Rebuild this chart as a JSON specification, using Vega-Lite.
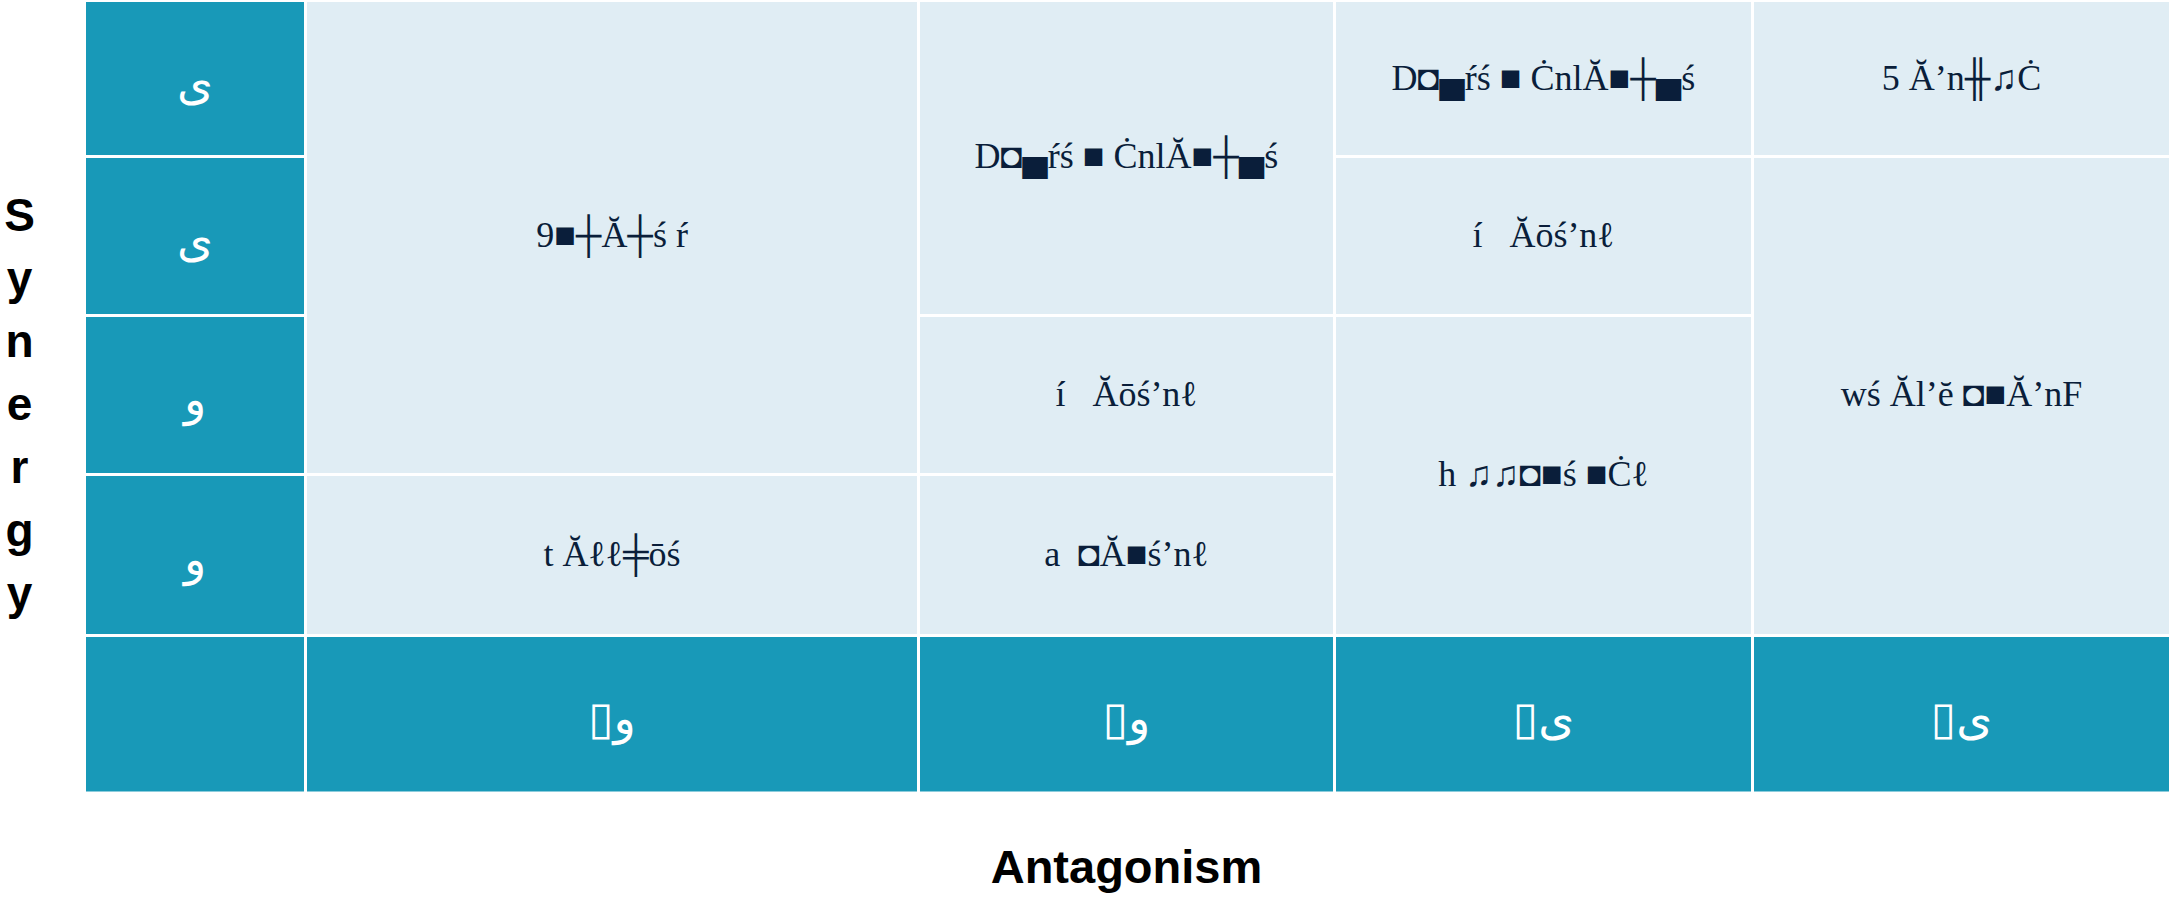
{
  "$schema": "https://vega.github.io/schema/vega-lite/v6.json",
  "width": 2169,
  "height": 901,
  "autosize": {"type": "none"},
  "padding": 0,
  "background": "white",
  "config": {"view": {"stroke": null}},
  "data": {
    "values": [
      {"c0": 0, "c1": 1, "r0": 0, "r1": 1, "cm": 0.5, "rm": 0.5, "kind": "head", "label": "ی"},
      {"c0": 0, "c1": 1, "r0": 1, "r1": 2, "cm": 0.5, "rm": 1.5, "kind": "head", "label": "ی"},
      {"c0": 0, "c1": 1, "r0": 2, "r1": 3, "cm": 0.5, "rm": 2.5, "kind": "head", "label": "و"},
      {"c0": 0, "c1": 1, "r0": 3, "r1": 4, "cm": 0.5, "rm": 3.5, "kind": "head", "label": "و"},
      {"c0": 0, "c1": 1, "r0": 4, "r1": 5, "cm": 0.5, "rm": 4.5, "kind": "head", "label": ""},
      {"c0": 1, "c1": 2, "r0": 4, "r1": 5, "cm": 1.5, "rm": 4.5, "kind": "head", "label": "▯و"},
      {"c0": 2, "c1": 3, "r0": 4, "r1": 5, "cm": 2.5, "rm": 4.5, "kind": "head", "label": "▯و"},
      {"c0": 3, "c1": 4, "r0": 4, "r1": 5, "cm": 3.5, "rm": 4.5, "kind": "head", "label": "▯ی"},
      {"c0": 4, "c1": 5, "r0": 4, "r1": 5, "cm": 4.5, "rm": 4.5, "kind": "head", "label": "▯ی"},
      {"c0": 1, "c1": 2, "r0": 0, "r1": 3, "cm": 1.5, "rm": 1.5, "kind": "body", "label": "9■┼Ă┼ś ŕ"},
      {"c0": 1, "c1": 2, "r0": 3, "r1": 4, "cm": 1.5, "rm": 3.5, "kind": "body", "label": "t Ăℓℓ╪ōś"},
      {"c0": 2, "c1": 3, "r0": 0, "r1": 2, "cm": 2.5, "rm": 1, "kind": "body", "label": "D◘▄ŕś ■ ĊnlĂ■┼▄ś"},
      {"c0": 2, "c1": 3, "r0": 2, "r1": 3, "cm": 2.5, "rm": 2.5, "kind": "body", "label": "í\u00a0\u00a0\u00a0Ăōś’nℓ"},
      {"c0": 2, "c1": 3, "r0": 3, "r1": 4, "cm": 2.5, "rm": 3.5, "kind": "body", "label": "a\u00a0\u00a0◘Ă■ś’nℓ"},
      {"c0": 3, "c1": 4, "r0": 0, "r1": 1, "cm": 3.5, "rm": 0.5, "kind": "body", "label": "D◘▄ŕś ■ ĊnlĂ■┼▄ś"},
      {"c0": 3, "c1": 4, "r0": 1, "r1": 2, "cm": 3.5, "rm": 1.5, "kind": "body", "label": "í\u00a0\u00a0\u00a0Ăōś’nℓ"},
      {"c0": 3, "c1": 4, "r0": 2, "r1": 4, "cm": 3.5, "rm": 3, "kind": "body", "label": "h ♫♫◘■ś ■Ċℓ"},
      {"c0": 4, "c1": 5, "r0": 0, "r1": 1, "cm": 4.5, "rm": 0.5, "kind": "body", "label": "5 Ă’n╫♫Ċ"},
      {"c0": 4, "c1": 5, "r0": 1, "r1": 4, "cm": 4.5, "rm": 2.5, "kind": "body", "label": "wś Ăl’ĕ ◘■Ă’nF"}
    ]
  },
  "layer": [
    {
      "mark": {"type": "rect", "stroke": "white", "strokeWidth": 3},
      "encoding": {
        "x": {
          "field": "c0", "type": "quantitative",
          "scale": {"domain": [0, 1, 2, 3, 4, 5], "range": [84.5, 305.5, 918.5, 1334.5, 1752.5, 2170.5], "nice": false, "zero": false},
          "axis": {"labels": false, "ticks": false, "domain": false, "grid": false, "title": "Antagonism", "titleFont": "Liberation Sans", "titleFontWeight": "bold", "titleFontSize": 47, "titleColor": "black", "titleX": 1126, "titleY": -33, "titleAlign": "center", "titleBaseline": "middle"}
        },
        "x2": {"field": "c1"},
        "y": {
          "field": "r0", "type": "quantitative",
          "scale": {"domain": [0, 1, 2, 3, 4, 5], "range": [0.5, 156.5, 315.5, 474.5, 635.5, 793], "nice": false, "zero": false},
          "axis": {"labels": false, "ticks": false, "domain": false, "grid": false, "title": ["S", "y", "n", "e", "r", "g", "y"], "titleFont": "Liberation Sans", "titleFontWeight": "bold", "titleFontSize": 46, "titleColor": "black", "titleAngle": 0, "titleX": 19, "titleY": 216, "titleAlign": "center", "titleBaseline": "middle", "titleLineHeight": 63}
        },
        "y2": {"field": "r1"},
        "color": {"field": "kind", "type": "nominal", "scale": {"domain": ["head", "body"], "range": ["#1899B8", "#E0EDF4"]}, "legend": null}
      }
    },
    {
      "transform": [{"filter": "datum.kind == 'body'"}],
      "mark": {"type": "text", "font": "Liberation Serif", "fontSize": 36, "color": "#0A1E3A", "align": "center", "baseline": "middle"},
      "encoding": {
        "x": {"field": "cm", "type": "quantitative"},
        "y": {"field": "rm", "type": "quantitative"},
        "text": {"field": "label"}
      }
    },
    {
      "transform": [{"filter": "datum.kind == 'head'"}],
      "mark": {"type": "text", "font": "DejaVu Sans", "fontSize": 46, "color": "white", "align": "center", "baseline": "middle", "dy": 6},
      "encoding": {
        "x": {"field": "cm", "type": "quantitative"},
        "y": {"field": "rm", "type": "quantitative"},
        "text": {"field": "label"}
      }
    }
  ]
}
